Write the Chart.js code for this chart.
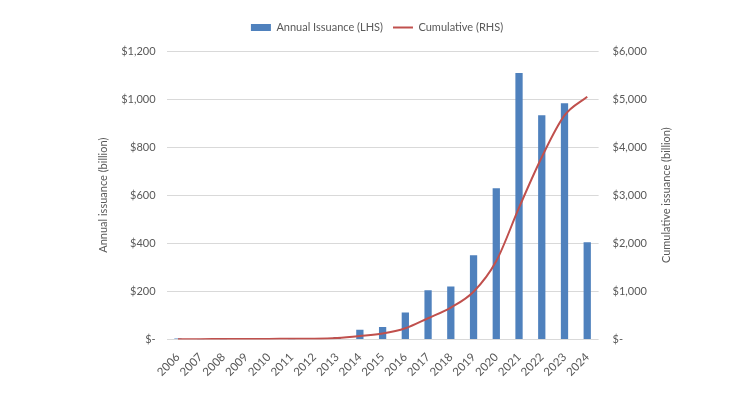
<!DOCTYPE html>
<html>
<head>
<meta charset="utf-8">
<script src="https://cdn.jsdelivr.net/npm/chart.js@4"></script>
<style>
  html, body { margin: 0; padding: 0; background: #fff; }
  #wrap { width: 740px; height: 393px; }
</style>
</head>
<body>
<div id="wrap"><canvas id="grafico"></canvas></div>
<script>
const anos = ["2006","2007","2008","2009","2010","2011","2012","2013","2014","2015","2016","2017","2018","2019","2020","2021","2022","2023","2024"];
const emissaoAnual = [4, 1, 1, 2, 2, 1, 3, 10, 40, 52, 112, 204, 220, 350, 629, 1108, 933, 983, 404];
const acumulado = [4, 5, 6, 8, 10, 11, 14, 30, 70, 122, 232, 440, 662, 990, 1630, 2740, 3790, 4660, 5050];

const corTexto = "#595959";
const fonte = { family: "Lato, 'Liberation Sans', sans-serif", size: 11 };

function formatarDolar(v){
    if(v === 0) return "$-";
    return "$" + v.toLocaleString("en-US");
}

// legenda mais alta, para abrir espaco antes do grafico
const espacoLegenda = {
    id: "espacoLegenda",
    beforeInit(chart){
        const fitOriginal = chart.legend.fit;
        chart.legend.fit = function(){
            fitOriginal.bind(chart.legend)();
            this.height += 8;
        };
    }
};

// titulo do eixo direito, lido de baixo para cima
const tituloDireita = {
    id: "tituloDireita",
    afterDraw(chart){
        const area = chart.chartArea;
        const c = chart.ctx;
        c.save();
        c.translate(666, (area.top + area.bottom) / 2);
        c.rotate(-Math.PI / 2);
        c.fillStyle = corTexto;
        c.font = "11px " + fonte.family;
        c.textAlign = "center";
        c.textBaseline = "middle";
        c.fillText("Cumulative issuance (billion)", 0, 0);
        c.restore();
    }
};

const ctx = document.getElementById("grafico");

new Chart(ctx, {
    data: {
        labels: anos,
        datasets: [
            {
                type: "line",
                label: "Cumulative (RHS)",
                data: acumulado,
                yAxisID: "y2",
                borderColor: "#c0504d",
                backgroundColor: "#c0504d",
                borderWidth: 2,
                pointRadius: 0,
                cubicInterpolationMode: "monotone",
                pointStyle: "line",
                order: 1
            },
            {
                type: "bar",
                label: "Annual Issuance (LHS)",
                data: emissaoAnual,
                yAxisID: "y",
                backgroundColor: "#4f81bd",
                borderWidth: 0,
                barPercentage: 0.32,
                categoryPercentage: 1,
                pointStyle: "rect",
                order: 2
            }
        ]
    },
    options: {
        responsive: true,
        maintainAspectRatio: false,
        animation: false,
        layout: { padding: { left: 93, right: 79, top: 12, bottom: 11 } },
        plugins: {
            tooltip: { enabled: false },
            legend: {
                position: "top",
                reverse: true,
                labels: {
                    color: corTexto,
                    font: fonte,
                    usePointStyle: true,
                    pointStyleWidth: 20,
                    boxWidth: 20,
                    boxHeight: 7,
                    padding: 10
                }
            }
        },
        scales: {
            x: {
                grid: { display: false },
                border: { display: false },
                ticks: { color: corTexto, font: { family: fonte.family, size: 11.5 }, minRotation: 45, maxRotation: 45, autoSkip: false }
            },
            y: {
                position: "left",
                min: 0,
                max: 1200,
                ticks: { stepSize: 200, color: corTexto, font: fonte, padding: 11, callback: formatarDolar },
                grid: { color: "#d9d9d9", drawTicks: false },
                border: { display: false },
                title: { display: true, text: "Annual issuance (billion)", color: corTexto, font: fonte, padding: { top: 4, bottom: 0 } }
            },
            y2: {
                position: "right",
                min: 0,
                max: 6000,
                ticks: { stepSize: 1000, color: corTexto, font: fonte, padding: 14, callback: formatarDolar },
                grid: { display: false, drawTicks: false },
                border: { display: false }
            }
        }
    },
    plugins: [espacoLegenda, tituloDireita]
});
</script>
</body>
</html>
